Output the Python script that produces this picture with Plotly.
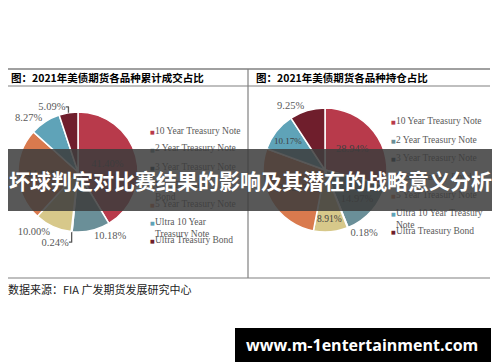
import plotly.graph_objects as go

# The page body has an 8px margin, so the figure is drawn 8px in from the window's corner.
OFF = 8
W, H = 500 - OFF, 362 - OFF

# ---------------- data ----------------
categories = ["10 Year Treasury Note", "2 Year Treasury Note", "3 Year Treasury Note",
              "U.S. Treasury Bond", "5 Year Treasury Note",
              "Ultra 10 Year Treasury Note", "Ultra Treasury Bond"]
legend_left_text = ["10 Year Treasury Note", "2 Year Treasury Note", "3 Year Treasury Note",
                    "U.S. Treasury<br>Bond", "5 Year Treasury Note",
                    "Ultra 10 Year<br>Treasury Note", "Ultra Treasury Bond"]
legend_right_text = ["10 Year Treasury Note", "2 Year Treasury Note", "3 Year Treasury Note",
                     "U.S. Treasury Bond", "5 Year Treasury Note",
                     "Ultra 10 Year Treasury<br>Note", "Ultra Treasury Bond"]
volume_share = [41.40, 10.18, 0.24, 10.00, 24.84, 8.27, 5.09]   # 累计成交占比 (%)
oi_share = [28.94, 14.97, 0.18, 8.91, 27.58, 10.17, 9.25]       # 持仓占比 (%)
colors = ["#b83a4b", "#6a8f98", "#22394a", "#d7c88a", "#d97a4e", "#5fa3b8", "#6f1e2c"]

title_left = "图：2021年美债期货各品种累计成交占比"
title_right = "图：2021年美债期货各品种持仓占比"
source_text = "数据来源：FIA 广发期货发展研究中心"
banner_text = "坏球判定对比赛结果的影响及其潜在的战略意义分析"
watermark_text = "www.m-1entertainment.com"


def px_x(x):
    return (x - OFF) / W


def px_y(y):
    return 1 - (y - OFF) / H


fig = go.Figure()

pos_left = ["inside", "outside", "outside", "outside", "inside", "outside", "outside"]
pos_right = ["inside", "inside", "outside", "inside", "inside", "inside", "outside"]

label_font = dict(family="Liberation Serif", size=10.5, color="#404040")

fig.add_trace(go.Pie(
    labels=categories, values=volume_share, sort=False, direction="clockwise", rotation=0,
    marker=dict(colors=colors, line=dict(color="white", width=1.5)),
    texttemplate="%{value:.2f}%", textposition=pos_left,
    insidetextfont=label_font, outsidetextfont=dict(label_font, color="#595959"),
    insidetextorientation="horizontal",
    domain=dict(x=[px_x(18), px_x(138)], y=[px_y(232), px_y(112)]),
    showlegend=False, hoverinfo="label+value", name="累计成交占比",
))
fig.add_trace(go.Pie(
    labels=categories, values=oi_share, sort=False, direction="clockwise", rotation=0,
    marker=dict(colors=colors, line=dict(color="white", width=1.5)),
    texttemplate="%{value:.2f}%", textposition=pos_right,
    insidetextfont=label_font, outsidetextfont=dict(label_font, color="#595959"),
    insidetextorientation="horizontal",
    domain=dict(x=[px_x(263), px_x(387)], y=[px_y(232), px_y(108)]),
    showlegend=False, hoverinfo="label+value", name="持仓占比",
))

shapes = []
line_col = "#808080"
def hline(y, x0, x1, w=1.2):
    shapes.append(dict(type="line", xref="paper", yref="paper", x0=px_x(x0), x1=px_x(x1),
                       y0=px_y(y), y1=px_y(y), line=dict(color=line_col, width=w)))
def vline(x, y0, y1, w=1.2):
    shapes.append(dict(type="line", xref="paper", yref="paper", x0=px_x(x), x1=px_x(x),
                       y0=px_y(y0), y1=px_y(y1), line=dict(color=line_col, width=w)))

hline(69, OFF, 490, 1.5)
hline(86, OFF, 490, 1.2)
hline(278, OFF, 490, 1.2)
vline(248, 69, 278, 1.2)

annotations = []
def text_at(x, y, text, size, color="#000", family="Noto Sans CJK SC", xanchor="left",
            yanchor="middle", bold=False):
    annotations.append(dict(x=px_x(x), y=px_y(y), xref="paper", yref="paper", text=text,
                            showarrow=False, xanchor=xanchor, yanchor=yanchor, align="left",
                            font=dict(family=family, size=size, color=color,
                                      weight="bold" if bold else "normal"),
                            borderpad=0, borderwidth=0))

text_at(11, 77, title_left, 10.5, bold=True)
text_at(256, 77, title_right, 10.5, bold=True)
text_at(8, 289, source_text, 11, color="#222")

# legends (built from the category / colour lists)
def legend(marker_x, text_x, ys, texts):
    for y, t, c in zip(ys, texts, colors):
        text_at(marker_x, y, "■", 5, color=c, family="DejaVu Sans", xanchor="center")
        text_at(text_x, y - 6.5, t, 9.5, color="#595959", family="Liberation Serif",
                yanchor="top")

legend(152, 155, [132, 150, 168, 186, 205, 223, 241], legend_left_text)
legend(393, 396, [122, 141, 159, 178, 196, 214, 232], legend_right_text)

# banner overlay: box, then its text
annotations.append(dict(x=px_x(8), y=px_y(149), xref="paper", yref="paper",
                        text=" ", showarrow=False, xanchor="left", yanchor="top",
                        width=492, height=62, bgcolor="rgba(60,60,60,0.86)",
                        borderpad=0, borderwidth=0))
text_at(250, 180, banner_text, 21, color="white", xanchor="center", bold=True)

# watermark: box, then its text
annotations.append(dict(x=px_x(235), y=px_y(328), xref="paper", yref="paper",
                        text=" ", showarrow=False, xanchor="left", yanchor="top",
                        width=256, height=34, bgcolor="black", borderpad=0, borderwidth=0))
text_at(362, 345, watermark_text, 16, color="white", family="Open Sans",
        xanchor="center", bold=True)

fig.update_layout(
    width=W, height=H, margin=dict(l=0, r=0, t=0, b=0),
    paper_bgcolor="white", plot_bgcolor="white",
    shapes=shapes, annotations=annotations, showlegend=False,
)

fig.write_html("out.html")
